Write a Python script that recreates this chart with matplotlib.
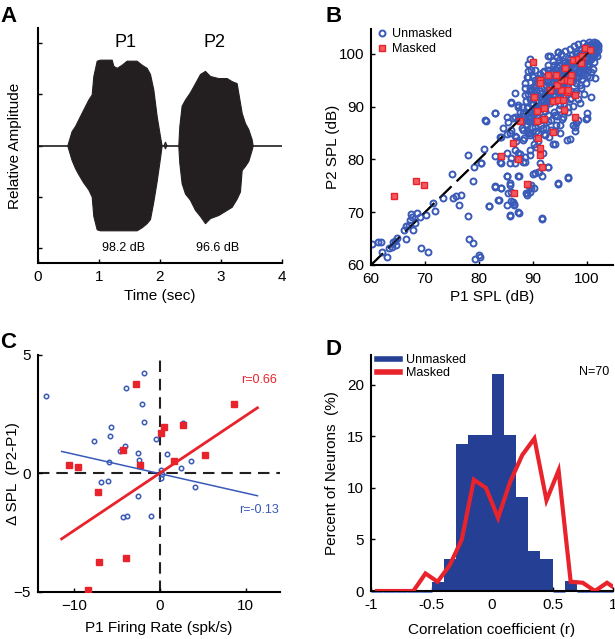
import matplotlib
matplotlib.use('Agg')
import matplotlib.pyplot as plt
from matplotlib.lines import Line2D

plt.rcParams['font.family'] = ['Liberation Sans', 'DejaVu Sans']
plt.rcParams['font.size'] = 11

BLUE = '#3a5ab8'
RED = '#e8232b'
HIST_BLUE = '#243f94'
HIST_EDGE = '#5579cc'

# ---- Panel A: waveform envelope (seconds, relative amplitude)
p1_t = [0.48, 0.55, 0.606, 0.66, 0.74, 0.825, 0.88, 0.907, 0.962, 1.016, 1.10, 1.208,
        1.235, 1.29, 1.371, 1.453, 1.55, 1.617, 1.70, 1.781, 1.836, 1.89, 1.945, 2.0, 2.027]
p1_up = [0, 0.14, 0.19, 0.255, 0.35, 0.45, 0.50, 0.68, 0.83, 0.84, 0.84, 0.84,
         0.78, 0.76, 0.79, 0.83, 0.83, 0.83, 0.79, 0.76, 0.70, 0.55, 0.29, 0.09, 0]
p1_lo = [0, -0.14, -0.22, -0.28, -0.36, -0.43, -0.50, -0.69, -0.82, -0.83, -0.83, -0.83,
         -0.83, -0.83, -0.83, -0.83, -0.83, -0.83, -0.80, -0.76, -0.72, -0.55, -0.35, -0.12, 0]
p2_t = [2.30, 2.317, 2.355, 2.41, 2.49, 2.574, 2.656, 2.738, 2.82, 2.956, 3.093, 3.175,
        3.257, 3.311, 3.339, 3.393, 3.448, 3.503, 3.52]
p2_up = [0, 0.19, 0.39, 0.45, 0.52, 0.61, 0.70, 0.73, 0.68, 0.66, 0.66, 0.63,
         0.61, 0.42, 0.32, 0.22, 0.16, 0.06, 0]
p2_lo = [0, -0.17, -0.37, -0.47, -0.53, -0.63, -0.69, -0.76, -0.71, -0.68, -0.63, -0.60,
         -0.52, -0.45, -0.24, -0.20, -0.15, -0.04, 0]

# ---- Panel B: P1 vs P2 SPL (dB)
unmasked_p1 = [
    60.1, 61.3, 61.9, 62.1, 63.0, 63.3, 63.8, 64.1, 64.8, 64.4, 64.6, 66.1, 66.4, 66.5,
    67.2, 67.5, 67.4, 67.0, 67.8, 68.1, 68.5, 69.0, 69.3, 70.6, 70.2, 71.5, 71.8, 73.3,
    74.9, 75.2, 75.8, 76.7, 76.3, 78.0, 78.0, 78.1, 78.9, 79.0, 78.9, 79.3, 80.0, 80.1,
    80.4, 81.2, 80.9, 81.8, 82.9, 82.9, 83.6, 84.1, 83.8, 84.1, 84.4, 85.1, 85.2, 85.2,
    85.7, 85.7, 85.7, 85.9, 86.0, 86.4, 86.6, 87.2, 87.2, 87.4, 87.5, 88.1, 88.6, 88.8,
    89.1, 89.4, 89.7, 90.0, 91.1, 91.7, 92.8, 94.6, 96.5, 96.2, 99.8, 98.4, 97.7, 98.0,
    94.0, 93.7, 91.9, 90.6, 90.2, 89.4, 88.5, 90.6, 89.4, 88.8, 88.1, 86.9, 86.6, 86.0,
    85.4, 86.3, 87.2, 88.1, 86.0, 87.2, 88.5, 89.4, 88.5, 88.8, 89.1, 90.3, 89.4, 94.6,
    92.8,
    101.4, 101.7, 100.8, 99.9, 100.5, 101.1, 99.3, 98.6, 99.9, 98.0, 98.9, 100.2, 97.4,
    96.8, 98.0, 99.3, 100.5, 96.2, 95.6, 97.1, 98.3, 94.9, 94.3, 95.9, 97.4, 98.6, 93.7,
    93.4, 94.9, 96.5, 98.0, 92.5, 92.2, 94.0, 95.6, 97.1, 91.5, 91.2, 93.1, 94.9, 96.5,
    90.6, 90.3, 92.2, 94.0, 95.6, 89.7, 89.4, 91.2, 92.8, 94.3, 88.8, 90.3, 91.9, 93.4,
    88.2, 89.1, 90.9,
    94.6, 93.1, 89.1, 89.7, 89.1, 90.0, 90.3, 88.5, 89.7, 86.6, 86.0, 87.2, 87.5, 82.9,
    81.1, 86.6, 87.8, 98.6, 99.9, 99.9, 97.4, 97.7, 94.9, 101.4, 100.8,
    83.8, 85.7, 86.9, 89.4, 90.6, 92.2, 94.9, 96.8, 94.0, 82.9, 84.0, 85.1, 86.0, 86.6,
    87.5, 88.5, 89.4, 91.2, 92.8, 80.4, 85.1, 87.2, 90.3, 90.9, 91.6, 85.8, 89.7, 90.1,
    94.6, 96.5, 83.0, 84.1, 85.4, 88.8, 83.5, 86.3, 86.4, 85.2, 81.8, 87.4, 85.8, 91.7,
    92.5, 93.0, 93.5, 94.0, 94.5, 95.0, 95.5, 96.0, 96.5, 97.0, 97.5, 98.0, 98.5, 99.0,
    99.5, 100.0, 100.5, 101.0, 101.5, 99.5, 98.8, 97.8, 96.8, 95.8, 94.8, 93.8, 92.8,
    91.8, 91.0, 90.5, 91.5, 92.0, 93.0, 94.2, 95.2, 96.2, 97.2, 98.2, 99.2, 100.2, 101.2,
    100.8, 99.8, 98.8, 97.8, 96.8, 95.8, 94.8, 93.8, 92.8, 91.8, 90.8, 90.0, 89.5, 90.2,
    91.0, 92.2, 93.2, 94.0, 95.0, 96.0, 97.0, 98.0, 99.0, 100.0, 101.0, 101.8, 100.7,
    99.7, 98.7, 97.7, 96.7, 95.7, 94.7, 93.7, 92.7, 91.7, 90.7, 89.7, 88.9, 89.2, 90.4,
    91.4, 92.4, 93.4, 94.4, 95.4, 96.4, 97.4, 98.4, 99.4, 92.0, 93.0, 89.8, 88.4, 91.0,
    88.0, 88.6, 89.0, 89.6, 90.0, 90.4, 90.8, 91.2, 91.6, 92.0, 92.4, 92.8, 93.2, 93.6,
    94.0, 94.4, 94.8, 95.2, 95.6, 96.0, 96.4, 96.8, 97.2, 97.6, 98.0, 98.4, 98.8, 99.2,
    99.6, 100.0, 100.4, 100.8, 101.2, 101.6, 102.0,
    88.0, 88.6, 89.0, 89.6, 90.0, 90.4, 90.8, 91.2, 91.6, 92.0, 92.4, 92.8, 93.2, 93.6,
    94.0, 94.4, 94.8, 95.2, 95.6, 96.0, 96.4, 96.8, 97.2, 97.6, 98.0, 98.4, 98.8, 99.2,
    99.6, 100.0, 100.4, 100.8, 101.2, 101.6, 102.0,
    88.0, 88.6, 89.0, 89.6, 90.0, 90.4, 90.8, 91.2, 91.6, 92.0, 92.4, 92.8, 93.2, 93.6,
    94.0, 94.4, 94.8, 95.2, 95.6, 96.0, 96.4, 96.8, 97.2, 97.6, 98.0, 98.4, 98.8, 99.2,
    99.6, 100.0, 100.4, 100.8, 101.2, 101.6, 102.0]
unmasked_p2 = [
    64.0, 64.3, 64.4, 62.5, 61.5, 63.2, 63.5, 64.3, 65.2, 64.6, 63.8, 66.6, 64.9, 67.3,
    68.5, 69.0, 69.7, 67.6, 66.6, 67.9, 69.8, 69.0, 63.2, 62.4, 69.5, 71.8, 70.3, 72.6,
    77.3, 72.7, 73.0, 73.3, 71.4, 80.9, 69.2, 65.0, 64.2, 78.6, 75.9, 61.1, 61.9, 61.5,
    79.3, 87.3, 81.9, 71.1, 88.8, 75.0, 72.3, 74.5, 79.5, 84.3, 85.9, 88.0, 76.9, 84.9,
    79.4, 75.2, 69.5, 73.8, 72.1, 71.5, 81.8, 81.2, 70.1, 76.9, 80.2, 79.6, 73.7, 73.3,
    75.2, 73.9, 74.5, 77.3, 77.7, 68.8, 78.6, 75.5, 76.4, 83.7, 87.6, 87.5, 86.2, 86.9,
    85.3, 82.9, 81.3, 82.4, 82.9, 81.8, 80.5, 85.3, 84.6, 85.3, 83.7, 83.4, 84.5, 85.6,
    87.0, 87.8, 87.7, 88.8, 90.8, 90.0, 92.2, 93.5, 94.4, 95.7, 96.7, 97.0, 99.0, 100.3,
    99.5,
    101.7, 102.0, 101.4, 101.1, 100.4, 99.8, 100.4, 99.8, 99.2, 99.2, 98.5, 97.9, 98.5,
    97.9, 97.3, 96.7, 95.7, 97.3, 96.7, 96.3, 95.7, 96.0, 95.4, 95.1, 94.8, 94.1, 94.8,
    93.8, 93.8, 93.2, 92.9, 93.2, 92.2, 92.2, 91.9, 91.6, 91.3, 90.3, 90.7, 90.3, 90.0,
    89.7, 88.8, 89.1, 88.4, 88.1, 88.1, 87.2, 87.5, 87.2, 86.5, 86.5, 86.2, 85.9, 85.6,
    85.6, 85.0, 85.0,
    100.4, 99.5, 98.0, 97.0, 95.7, 95.7, 94.1, 93.5, 93.2, 92.5, 90.7, 90.3, 88.9, 88.8,
    87.4, 88.1, 87.5, 90.7, 88.8, 87.8, 86.5, 85.3, 86.5, 95.4, 91.9,
    84.3, 85.0, 84.3, 85.0, 84.0, 84.6, 85.0, 83.8, 82.9, 80.7, 79.4, 81.3, 80.2, 79.3,
    81.0, 79.5, 80.9, 79.4, 78.6, 79.3, 76.9, 76.9, 77.4, 77.7, 76.9, 75.5, 75.2, 74.5,
    75.4, 76.6, 74.8, 74.5, 73.6, 73.6, 72.4, 72.0, 71.4, 71.4, 71.1, 69.9, 69.2, 68.9,
    95.0, 94.0, 96.5, 95.5, 97.5, 94.5, 96.0, 97.5, 95.0, 98.5, 97.0, 100.0, 98.0, 99.5,
    97.5, 99.0, 101.5, 100.5, 101.0, 100.5, 101.0, 99.2, 99.0, 98.2, 98.8, 97.8, 97.0,
    96.5, 95.5, 94.0, 93.5, 91.0, 92.8, 93.5, 92.8, 93.8, 95.5, 96.5, 96.0, 97.0, 98.5,
    96.5, 94.5, 93.5, 92.5, 91.5, 90.5, 89.5, 89.0, 88.5, 88.0, 88.5, 90.5, 91.5, 92.5,
    91.8, 90.0, 91.2, 91.0, 91.8, 92.0, 93.0, 94.5, 95.2, 95.8, 97.2, 99.5, 99.8,
    98.5, 97.3, 96.2, 96.4, 95.2, 94.3, 93.0, 92.0, 90.8, 89.8, 88.8, 89.8, 87.9, 87.0,
    86.6, 86.0, 87.4, 88.2, 87.6, 89.0, 90.2, 91.4, 92.4, 84.8, 84.2, 86.2, 84.0, 83.5,
    90.0, 91.0, 92.3, 93.0, 93.8, 95.0, 94.6, 96.2, 95.0, 96.8, 95.8, 97.8, 96.4, 98.6,
    97.2, 99.4, 97.8, 100.0, 98.6, 100.6, 99.2, 101.0, 99.8, 101.4, 100.2, 101.8, 100.8,
    102.0, 101.2, 101.6, 102.2, 101.8, 102.3, 102.0, 101.6,
    86.0, 86.8, 87.2, 88.0, 88.6, 89.4, 89.0, 90.2, 89.8, 91.0, 90.6, 91.6, 91.2, 92.4,
    92.0, 93.0, 92.8, 93.8, 93.4, 94.6, 94.2, 95.4, 95.0, 96.2, 95.8, 96.8, 96.6, 97.4,
    97.2, 98.0, 98.6, 99.0, 99.6, 100.2, 100.8,
    88.2, 89.0, 90.0, 90.6, 91.4, 92.0, 92.2, 93.0, 92.6, 93.8, 94.0, 94.8, 94.6, 95.6,
    95.4, 96.4, 96.2, 97.0, 96.8, 97.8, 97.6, 98.4, 98.2, 99.0, 98.8, 99.6, 99.4, 100.2,
    100.0, 100.6, 100.4, 101.0, 101.0, 101.4, 101.2]
masked_p1 = [64.3, 68.4, 69.8, 89.9, 86.3, 86.4, 84.0, 87.2, 88.8, 91.2, 91.2, 91.7, 90.9,
             93.7, 92.0, 90.8, 87.5, 90.1, 90.7, 92.0, 93.6, 94.6, 95.7, 95.6, 97.8, 97.7,
             96.2, 95.2, 94.4, 95.2, 96.2, 94.3, 92.7, 91.2, 91.2, 93.1, 95.9, 97.1, 97.4,
             98.3, 99.1, 99.6, 98.9, 100.5, 96.5, 96.8]
masked_p2 = [73.1, 76.0, 75.2, 98.5, 83.2, 73.6, 80.7, 80.0, 75.4, 80.9, 82.1, 78.6, 84.0,
             85.2, 87.7, 87.2, 87.3, 91.8, 89.1, 89.7, 91.0, 91.3, 89.4, 91.3, 88.0, 92.2,
             92.7, 93.2, 94.1, 95.1, 95.1, 96.0, 96.0, 95.1, 94.4, 93.2, 97.3, 96.0, 98.9,
             99.0, 99.5, 101.1, 98.2, 100.8, 93.2, 94.8]

# ---- Panel C: firing rate vs delta SPL
c_unm_rate = [-13.3, -1.88, -3.92, -2.04, -1.8, -5.69, -5.8, -7.65, -4.08, -4.63, -2.59,
              -2.47, -5.92, -0.43, 0.86, 3.6, 2.47, 2.7, 0.12, 0.12, 4.08, -2.51, -6.9,
              -6.08, -4.31, -3.8, -1.06, 0.2]
c_unm_dspl = [3.26, 4.26, 3.61, 2.93, 2.16, 1.96, 1.6, 1.37, 1.14, 0.93, 0.86, 0.56, 0.49,
              1.47, 0.81, 0.53, 0.23, 2.14, 0.13, -0.19, -0.57, -0.97, -0.34, -0.31,
              -1.83, -1.8, -1.81, -0.03]
c_msk_rate = [-2.75, 8.63, 0.5, 0.16, 2.7, -4.31, -2.35, 1.6, 5.25, -10.6, -9.5, -7.25,
              -7.14, -3.92, -8.35]
c_msk_dspl = [3.76, 2.93, 1.97, 1.69, 2.03, 0.97, 0.37, 0.53, 0.76, 0.34, 0.26, -0.79,
              -3.73, -3.57, -4.93]
fit_x = [-11.45, 11.37]
fit_unm = [0.93, -0.94]
fit_msk = [-2.76, 2.77]

# ---- Panel D: correlation histogram
bin_centers = [-0.95, -0.85, -0.75, -0.65, -0.55, -0.45, -0.35, -0.25, -0.15, -0.05,
               0.05, 0.15, 0.25, 0.35, 0.45, 0.55, 0.65, 0.75, 0.85, 0.95]
unmasked_pct = [0, 0, 0, 0, 0, 0.9, 3.1, 14.3, 15.1, 15.1,
                21.1, 15.1, 9.1, 3.9, 3.1, 0, 1.0, 0, 0, 0]
masked_x = [-0.95, -0.85, -0.75, -0.65, -0.55, -0.45, -0.35, -0.25, -0.15, -0.05,
            0.05, 0.15, 0.25, 0.35, 0.45, 0.55, 0.65, 0.75, 0.85, 0.95, 1.05]
masked_pct = [0, 0, 0, 0, 1.7, 0.9, 2.5, 5.0, 10.8, 10.0,
              7.1, 10.6, 13.2, 14.8, 8.8, 11.7, 0.9, 0.8, 0, 0.8, 0]


def style_axes(ax, ylab_x, xlab_y):
    for side in ['top', 'right']:
        ax.spines[side].set_visible(False)
    for side in ['left', 'bottom']:
        ax.spines[side].set_linewidth(1.5)
    ax.tick_params(direction='in', length=3, width=1, labelsize=11, pad=5)
    ax.yaxis.set_label_coords(ylab_x, 0.5)
    ax.yaxis.label.set_va('center')
    ax.xaxis.set_label_coords(0.5, xlab_y)
    ax.xaxis.label.set_va('center')


fig = plt.figure(figsize=(6.15, 6.39), dpi=100)

# A
axA = fig.add_axes([0.0618, 0.5884, 0.3967, 0.3678])
axA.plot([0, 4], [0, 0], color='#231f20', lw=1.2)
axA.fill_between(p1_t, p1_lo, p1_up, color='#231f20', lw=0.8, edgecolor='#231f20')
axA.fill_between(p2_t, p2_lo, p2_up, color='#231f20', lw=0.8, edgecolor='#231f20')
axA.plot([2.07, 2.09, 2.11], [0.0, 0.03, 0.0], color='#231f20', lw=1)
axA.plot([2.07, 2.09, 2.11], [0.0, -0.03, 0.0], color='#231f20', lw=1)
axA.set_xlim(0, 4)
axA.set_ylim(-1.15, 1.15)
axA.set_xticks([0, 1, 2, 3, 4])
axA.set_yticks([-1, -0.5, 0, 0.5, 1])
axA.set_yticklabels([])
axA.set_xlabel('Time (sec)')
axA.set_ylabel('Relative Amplitude')
axA.text(1.43, 1.01, 'P1', fontsize=13, ha='center', va='center')
axA.text(2.9, 1.01, 'P2', fontsize=13, ha='center', va='center')
axA.text(1.41, -1.0, '98.2 dB', fontsize=9, ha='center', va='center')
axA.text(2.94, -1.0, '96.6 dB', fontsize=9, ha='center', va='center')
style_axes(axA, -0.094, -0.14)

# B
dash_b = (0, (8, 3.5))
axB = fig.add_axes([0.6033, 0.5853, 0.3935, 0.3693])
axB.plot([60, 100.5], [60, 100.5], color='black', lw=1.5, ls=dash_b, zorder=1)
axB.plot(unmasked_p1, unmasked_p2, 'o', ms=4.3, mfc='none', mec=BLUE, mew=1.4,
         label='Unmasked', zorder=2)
axB.plot(masked_p1, masked_p2, 's', ms=3.9, mfc='#f05a5f', mec=RED, mew=1.0,
         label='Masked', zorder=3)
axB.plot([60, 100.5], [60, 100.5], color='black', lw=1.5, ls=dash_b, alpha=0.6,
         zorder=4)
axB.set_xlim(60, 104.8)
axB.set_ylim(60, 104.7)
axB.set_xticks([60, 70, 80, 90, 100])
axB.set_yticks([60, 70, 80, 90, 100])
axB.set_xlabel('P1 SPL (dB)')
axB.set_ylabel('P2 SPL (dB)')
axB.legend(loc='upper left', frameon=False, fontsize=9, handlelength=0.8,
           handletextpad=0.4, borderaxespad=0.1, labelspacing=0.25,
           bbox_to_anchor=(0.0, 1.03))
style_axes(axB, -0.157, -0.136)

# C
dash_c = (0, (5.5, 3.3))
axC = fig.add_axes([0.0618, 0.0736, 0.3935, 0.3709])
axC.axhline(0, color='#231f20', lw=1.5, ls=dash_c, zorder=1)
axC.axvline(0, color='#231f20', lw=1.5, ls=dash_c, zorder=1)
axC.plot(c_unm_rate, c_unm_dspl, 'o', ms=3.2, mfc='none', mec=BLUE, mew=1.1, zorder=2)
axC.plot(c_msk_rate, c_msk_dspl, 's', ms=4.8, color=RED, zorder=3)
axC.plot(fit_x, fit_unm, color=BLUE, lw=1.1, zorder=4)
axC.plot(fit_x, fit_msk, color=RED, lw=2.0, zorder=4)
axC.text(11.6, 3.93, 'r=0.66', color=RED, fontsize=9, ha='center', va='center')
axC.text(11.6, -1.54, 'r=-0.13', color=BLUE, fontsize=9, ha='center', va='center')
axC.set_xlim(-14.2, 14)
axC.set_ylim(-5, 5)
axC.set_xticks([-10, 0, 10])
axC.set_yticks([-5, 0, 5])
axC.set_xlabel('P1 Firing Rate (spk/s)')
axC.set_ylabel('\u0394 SPL  (P2-P1)')
style_axes(axC, -0.103, -0.152)

# D
axD = fig.add_axes([0.6033, 0.0751, 0.3935, 0.3693])
axD.bar(bin_centers, unmasked_pct, width=0.1, color=HIST_BLUE, lw=0, zorder=2)
empty_bins = [c for c, v in zip(bin_centers, unmasked_pct) if v == 0]
axD.bar(empty_bins, [0] * len(empty_bins), width=0.1, color=HIST_EDGE,
        edgecolor=HIST_EDGE, lw=2, zorder=2.5, clip_on=False)
axD.plot(masked_x, masked_pct, color=RED, lw=3, zorder=3, solid_joinstyle='miter')
axD.set_xlim(-1, 1)
axD.set_ylim(0, 22.9)
axD.set_xticks([-1, -0.5, 0, 0.5, 1])
axD.set_xticklabels(['-1', '-0.5', '0', '0.5', '1'])
axD.set_yticks([0, 5, 10, 15, 20])
axD.set_xlabel('Correlation coefficient (r)')
axD.set_ylabel('Percent of Neurons  (%)')
axD.text(0.97, 21.3, 'N=70', fontsize=9, ha='right', va='center')
handles = [Line2D([0], [0], color=HIST_BLUE, lw=4), Line2D([0], [0], color=RED, lw=4)]
axD.legend(handles, ['Unmasked', 'Masked'], loc='upper left', frameon=False,
           fontsize=9, handlelength=1.8, handletextpad=0.5, borderaxespad=0.1,
           labelspacing=0.1, bbox_to_anchor=(0.0, 1.03))
style_axes(axD, -0.161, -0.165)

for label, x, y in [('A', 0.0, 0.99), ('B', 0.53, 0.99), ('C', 0.0, 0.48), ('D', 0.53, 0.47)]:
    fig.text(x, y, label, fontsize=16, fontweight='bold', va='top', ha='left')

fig.savefig('out.png', dpi=100)
